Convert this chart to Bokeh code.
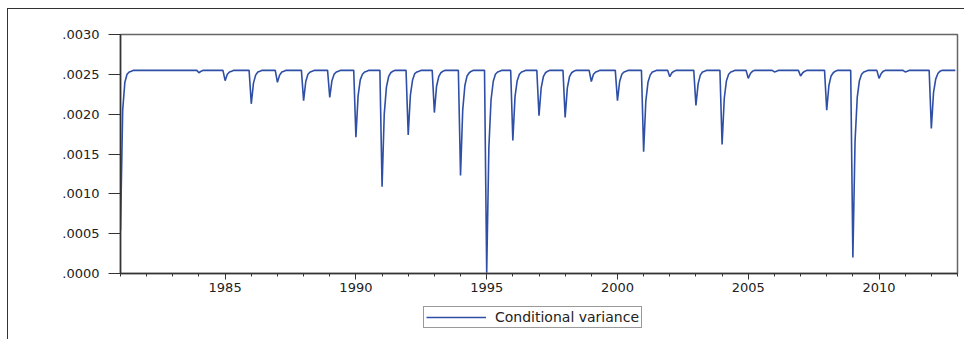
from bokeh.plotting import figure
from bokeh.layouts import column
from bokeh.models import (FixedTicker, CustomJSTickFormatter, Legend, LegendItem,
                          Range1d, ColumnDataSource, InlineStyleSheet)
from bokeh.embed import file_html
from bokeh.resources import INLINE

# ---- data (monthly conditional variance, units of 1e-4) ----
years = list(range(1981, 2013))
cond_var_e4 = [
    [5.4, 20.5, 24.0, 25.0, 25.3, 25.4, 25.5, 25.5, 25.5, 25.5, 25.5, 25.5],  # 1981
    [25.5, 25.5, 25.5, 25.5, 25.5, 25.5, 25.5, 25.5, 25.5, 25.5, 25.5, 25.5],  # 1982
    [25.5, 25.5, 25.5, 25.5, 25.5, 25.5, 25.5, 25.5, 25.5, 25.5, 25.5, 25.5],  # 1983
    [25.2, 25.4, 25.5, 25.5, 25.5, 25.5, 25.5, 25.5, 25.5, 25.5, 25.5, 25.5],  # 1984
    [24.2, 25.0, 25.3, 25.4, 25.5, 25.5, 25.5, 25.5, 25.5, 25.5, 25.5, 25.5],  # 1985
    [21.3, 23.9, 24.9, 25.3, 25.4, 25.5, 25.5, 25.5, 25.5, 25.5, 25.5, 25.5],  # 1986
    [24.0, 24.9, 25.3, 25.4, 25.5, 25.5, 25.5, 25.5, 25.5, 25.5, 25.5, 25.5],  # 1987
    [21.7, 24.1, 25.0, 25.3, 25.4, 25.5, 25.5, 25.5, 25.5, 25.5, 25.5, 25.5],  # 1988
    [22.1, 24.2, 25.0, 25.3, 25.4, 25.5, 25.5, 25.5, 25.5, 25.5, 25.5, 25.5],  # 1989
    [17.1, 22.3, 24.3, 25.0, 25.3, 25.4, 25.5, 25.5, 25.5, 25.5, 25.5, 25.5],  # 1990
    [10.9, 20.0, 23.4, 24.7, 25.2, 25.4, 25.5, 25.5, 25.5, 25.5, 25.5, 25.5],  # 1991
    [17.4, 22.4, 24.3, 25.1, 25.3, 25.4, 25.5, 25.5, 25.5, 25.5, 25.5, 25.5],  # 1992
    [20.2, 23.5, 24.7, 25.2, 25.4, 25.5, 25.5, 25.5, 25.5, 25.5, 25.5, 25.5],  # 1993
    [12.3, 20.5, 23.6, 24.8, 25.2, 25.4, 25.5, 25.5, 25.5, 25.5, 25.5, 25.5],  # 1994
    [0.1, 15.8, 21.8, 24.1, 25.0, 25.3, 25.4, 25.5, 25.5, 25.5, 25.5, 25.5],   # 1995
    [16.7, 22.2, 24.2, 25.0, 25.3, 25.4, 25.5, 25.5, 25.5, 25.5, 25.5, 25.5],  # 1996
    [19.8, 23.3, 24.7, 25.2, 25.4, 25.5, 25.5, 25.5, 25.5, 25.5, 25.5, 25.5],  # 1997
    [19.6, 23.3, 24.7, 25.2, 25.4, 25.5, 25.5, 25.5, 25.5, 25.5, 25.5, 25.5],  # 1998
    [24.1, 25.0, 25.3, 25.4, 25.5, 25.5, 25.5, 25.5, 25.5, 25.5, 25.5, 25.5],  # 1999
    [21.7, 24.1, 25.0, 25.3, 25.4, 25.5, 25.5, 25.5, 25.5, 25.5, 25.5, 25.5],  # 2000
    [15.3, 21.6, 24.0, 24.9, 25.3, 25.4, 25.5, 25.5, 25.5, 25.5, 25.5, 25.5],  # 2001
    [24.7, 25.2, 25.4, 25.5, 25.5, 25.5, 25.5, 25.5, 25.5, 25.5, 25.5, 25.5],  # 2002
    [21.1, 23.8, 24.9, 25.3, 25.4, 25.5, 25.5, 25.5, 25.5, 25.5, 25.5, 25.5],  # 2003
    [16.2, 22.0, 24.2, 25.0, 25.3, 25.4, 25.5, 25.5, 25.5, 25.5, 25.5, 25.5],  # 2004
    [24.5, 25.1, 25.4, 25.5, 25.5, 25.5, 25.5, 25.5, 25.5, 25.5, 25.5, 25.5],  # 2005
    [25.3, 25.4, 25.5, 25.5, 25.5, 25.5, 25.5, 25.5, 25.5, 25.5, 25.5, 25.5],  # 2006
    [24.8, 25.2, 25.4, 25.5, 25.5, 25.5, 25.5, 25.5, 25.5, 25.5, 25.5, 25.5],  # 2007
    [20.5, 23.6, 24.8, 25.2, 25.4, 25.5, 25.5, 25.5, 25.5, 25.5, 25.5, 25.5],  # 2008
    [2.0, 16.6, 22.1, 24.2, 25.0, 25.3, 25.4, 25.5, 25.5, 25.5, 25.5, 25.5],   # 2009
    [24.5, 25.1, 25.4, 25.5, 25.5, 25.5, 25.5, 25.5, 25.5, 25.5, 25.5, 25.5],  # 2010
    [25.3, 25.4, 25.5, 25.5, 25.5, 25.5, 25.5, 25.5, 25.5, 25.5, 25.5, 25.5],  # 2011
    [18.2, 22.7, 24.4, 25.1, 25.4, 25.5, 25.5, 25.5, 25.5, 25.5, 25.5, 25.5],  # 2012
]
x_major_ticks = [1985, 1990, 1995, 2000, 2005, 2010]
x_minor_ticks = list(range(1981, 2014))
y_ticks = [0.0, 0.0005, 0.0010, 0.0015, 0.0020, 0.0025, 0.0030]
y_tick_labels = [".0000", ".0005", ".0010", ".0015", ".0020", ".0025", ".0030"]
series_label = "Conditional variance"

# ---- build series ----
xs, ys = [], []
for yr, row in zip(years, cond_var_e4):
    for m, v in enumerate(row):
        xs.append(yr + m / 12.0)
        ys.append(v * 1e-4)
src = ColumnDataSource(dict(x=xs, y=ys))

FONT = "DejaVu Sans"
LINE_COLOR = "#2f4fa6"
LINE_WIDTH = 1.6

# ---- main chart ----
p = figure(width=964, height=298, output_backend="svg", toolbar_location=None,
           x_range=Range1d(1981, 2013), y_range=Range1d(0, 0.003),
           min_border_left=120, min_border_right=7, min_border_top=34,
           min_border_bottom=25)
p.background_fill_color = "white"
p.border_fill_color = "white"
p.outline_line_color = "#666666"
p.outline_line_width = 1.5
p.xgrid.visible = False
p.ygrid.visible = False

r = p.line("x", "y", source=src, line_color=LINE_COLOR, line_width=LINE_WIDTH)

xa = p.xaxis[0]
xa.ticker = FixedTicker(ticks=x_major_ticks, minor_ticks=x_minor_ticks)
xa.axis_line_color = "#333333"
xa.axis_line_width = 1.5
xa.major_tick_out = 6
xa.major_tick_in = 0
xa.minor_tick_out = 3
xa.minor_tick_in = 0
xa.major_tick_line_color = "#333333"
xa.minor_tick_line_color = "#333333"
xa.major_label_standoff = 3
xa.major_label_text_font = FONT
xa.major_label_text_font_size = "13px"
xa.major_label_text_color = "#222222"

ya = p.yaxis[0]
ya.ticker = FixedTicker(ticks=y_ticks)
ya.formatter = CustomJSTickFormatter(
    args=dict(yt=y_ticks, yl=y_tick_labels),
    code="const i = yt.findIndex(t => Math.abs(t - tick) < 1e-9); return i >= 0 ? yl[i] : '';")
ya.axis_line_color = "#333333"
ya.axis_line_width = 1.5
ya.major_tick_out = 12
ya.major_tick_in = 0
ya.minor_tick_line_color = None
ya.major_tick_line_color = "#333333"
ya.major_label_standoff = 9
ya.major_label_text_font = FONT
ya.major_label_text_font_size = "13px"
ya.major_label_text_color = "#222222"

# ---- legend strip (separate small figure under the chart) ----
q = figure(width=964, height=41, output_backend="svg", toolbar_location=None,
           x_range=Range1d(0, 1), y_range=Range1d(0, 1),
           min_border_left=0, min_border_right=0, min_border_top=0,
           min_border_bottom=0, x_axis_type=None, y_axis_type=None)
q.outline_line_color = None
q.xgrid.visible = False
q.ygrid.visible = False
q.background_fill_color = "white"
q.border_fill_color = "white"
# same series, entirely outside this strip's ranges: only its legend key shows
key = q.line("x", "y", source=src, line_color=LINE_COLOR, line_width=LINE_WIDTH)

legend = Legend(items=[LegendItem(label=series_label, renderers=[key])],
                location=(303, 11), orientation="horizontal",
                border_line_color="#333333", border_line_width=1.2,
                background_fill_alpha=1.0, padding=2, margin=0,
                glyph_width=60, glyph_height=12, label_height=12,
                label_standoff=9, label_text_font=FONT,
                label_text_font_size="14px", label_text_color="#222222")
q.add_layout(legend)

frame_css = InlineStyleSheet(css="""
:host { position: relative; }
:host::after {
  content: ""; position: absolute; left: 7px; top: 8px; right: 0px; bottom: 0px;
  border-top: 1.5px solid #333; border-left: 1.5px solid #333;
  pointer-events: none; z-index: 5;
}
""")
page = column(p, q, spacing=0, stylesheets=[frame_css])

open("out.html", "w").write(file_html(page, INLINE))
